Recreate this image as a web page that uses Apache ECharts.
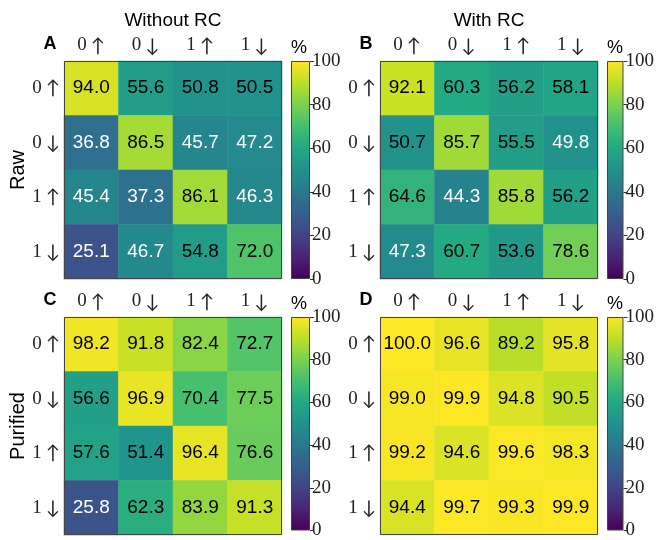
<!DOCTYPE html>
<html>
<head>
<meta charset="utf-8">
<script src="https://cdn.jsdelivr.net/npm/echarts@6/dist/echarts.min.js"></script>
<style>
  html, body { margin: 0; padding: 0; background: #fff; }
  #chart { width: 657px; height: 540px; }
</style>
</head>
<body>
<div id="chart"></div>
<script>
// state labels for both axes (prepared / measured)
const stateLabels = ['0 ↑', '0 ↓', '1 ↑', '1 ↓']
const colorbarTicks = [0, 20, 40, 60, 80, 100]

// rows = prepared state, columns = measured state, values in %
const rawWithoutRc = [
  [94.0, 55.6, 50.8, 50.5],
  [36.8, 86.5, 45.7, 47.2],
  [45.4, 37.3, 86.1, 46.3],
  [25.1, 46.7, 54.8, 72.0]
]
const rawWithRc = [
  [92.1, 60.3, 56.2, 58.1],
  [50.7, 85.7, 55.5, 49.8],
  [64.6, 44.3, 85.8, 56.2],
  [47.3, 60.7, 53.6, 78.6]
]
const purifiedWithoutRc = [
  [98.2, 91.8, 82.4, 72.7],
  [56.6, 96.9, 70.4, 77.5],
  [57.6, 51.4, 96.4, 76.6],
  [25.8, 62.3, 83.9, 91.3]
]
const purifiedWithRc = [
  [100.0, 96.6, 89.2, 95.8],
  [99.0, 99.9, 94.8, 90.5],
  [99.2, 94.6, 99.6, 98.3],
  [94.4, 99.7, 99.3, 99.9]
]

const viridis = ['#440154', '#482475', '#414487', '#355f8d', '#2a788e', '#21918c',
  '#22a884', '#44bf70', '#7ad151', '#bddf26', '#fde725']

const serif = '"Liberation Serif", "DejaVu Serif", serif'
const sans = '"Liberation Sans", Arial, sans-serif'

const panels = [
  { letter: 'A', values: rawWithoutRc, left: 64, top: 61 },
  { letter: 'B', values: rawWithRc, left: 380, top: 61 },
  { letter: 'C', values: purifiedWithoutRc, left: 64, top: 317 },
  { letter: 'D', values: purifiedWithRc, left: 380, top: 317 }
]
const size = 218
const cbGap = 9
const cbWidth = 19

// digit in serif, arrow in a thin tall glyph
const stateRich = {
  d: { fontFamily: serif, fontSize: 19, color: '#222' },
  a: { fontFamily: 'Lato', fontSize: 19, color: '#222', padding: [0, 0, 0, 4] }
}
const stateFormatter = (v) => {
  const [digit, arrow] = v.split(' ')
  return `{d|${digit}}{a|${arrow}}`
}

const chart = echarts.init(document.getElementById('chart'))

const grids = []
const xAxes = []
const yAxes = []
const series = []
const graphics = []
const heatIdx = []

const cbGradient = new echarts.graphic.LinearGradient(0, 1, 0, 0,
  viridis.map((c, i) => ({ offset: i / (viridis.length - 1), color: c })))

panels.forEach((p, i) => {
  grids.push({ left: p.left, top: p.top, width: size, height: size })
  grids.push({ left: p.left + size + cbGap, top: p.top, width: cbWidth, height: size })

  const hg = i * 2
  const cg = i * 2 + 1

  xAxes.push({
    gridIndex: hg, type: 'category', data: stateLabels, position: 'top',
    axisLine: { show: false }, axisTick: { show: false }, splitLine: { show: false },
    axisLabel: { interval: 0, formatter: stateFormatter, rich: stateRich, margin: 6 }
  })
  yAxes.push({
    gridIndex: hg, type: 'category', data: stateLabels, inverse: true,
    axisLine: { show: false }, axisTick: { show: false }, splitLine: { show: false },
    axisLabel: { interval: 0, formatter: stateFormatter, rich: stateRich, margin: 4 }
  })
  xAxes.push({
    gridIndex: cg, type: 'category', data: [''], show: false
  })
  yAxes.push({
    gridIndex: cg, type: 'value', position: 'right',
    min: colorbarTicks[0], max: colorbarTicks[colorbarTicks.length - 1],
    interval: colorbarTicks[1] - colorbarTicks[0],
    axisLine: { show: false }, splitLine: { show: false },
    axisTick: { show: true, length: 4, lineStyle: { color: '#333' } },
    axisLabel: { fontFamily: serif, fontSize: 19, color: '#222', margin: 2 }
  })

  const data = []
  p.values.forEach((row, r) => {
    row.forEach((v, c) => {
      data.push({
        value: [c, r, v],
        label: { color: v < 50 ? '#fff' : '#000' }
      })
    })
  })
  heatIdx.push(series.length)
  series.push({
    type: 'heatmap', xAxisIndex: hg, yAxisIndex: hg, data,
    label: {
      show: true, fontFamily: sans, fontSize: 19,
      formatter: (d) => d.value[2].toFixed(1)
    },
    emphasis: { disabled: true }
  })
  // frame around heatmap
  series.push({
    type: 'custom', xAxisIndex: hg, yAxisIndex: hg, data: [[0, 0]], z: 5, silent: true,
    renderItem: (params) => {
      const cs = params.coordSys
      return {
        type: 'rect',
        shape: { x: cs.x + 0.5, y: cs.y + 0.5, width: cs.width - 1, height: cs.height - 1 },
        style: { fill: null, stroke: '#444', lineWidth: 1 }
      }
    }
  })
  // colorbar
  series.push({
    type: 'bar', xAxisIndex: cg, yAxisIndex: cg,
    data: [colorbarTicks[colorbarTicks.length - 1]], barWidth: '100%', silent: true,
    itemStyle: { color: cbGradient, borderColor: '#444', borderWidth: 1 }
  })

  graphics.push({
    type: 'text', x: p.left - 14, y: p.top - 17,
    style: { text: p.letter, font: 'bold 18px ' + sans, fill: '#000', align: 'center', verticalAlign: 'middle' }
  })
  graphics.push({
    type: 'text', x: p.left + size + cbGap + 8, y: p.top - 13,
    style: { text: '%', font: '18px ' + sans, fill: '#000', align: 'center', verticalAlign: 'middle' }
  })
})

graphics.push(
  { type: 'text', x: 173, y: 21, style: { text: 'Without RC', font: '19px ' + sans, fill: '#000', align: 'center', verticalAlign: 'middle' } },
  { type: 'text', x: 489, y: 21, style: { text: 'With RC', font: '19px ' + sans, fill: '#000', align: 'center', verticalAlign: 'middle' } },
  { type: 'text', x: 18, y: 170, rotation: Math.PI / 2, style: { text: 'Raw', font: '20px ' + sans, fill: '#000', align: 'center', verticalAlign: 'middle' } },
  { type: 'text', x: 18, y: 426, rotation: Math.PI / 2, style: { text: 'Purified', font: '20px ' + sans, fill: '#000', align: 'center', verticalAlign: 'middle' } }
)

chart.setOption({
  animation: false,
  backgroundColor: '#fff',
  grid: grids,
  xAxis: xAxes,
  yAxis: yAxes,
  visualMap: {
    show: false, type: 'continuous', min: 0, max: 100, dimension: 2,
    seriesIndex: heatIdx, inRange: { color: viridis }
  },
  graphic: graphics,
  series
})
</script>
</body>
</html>
